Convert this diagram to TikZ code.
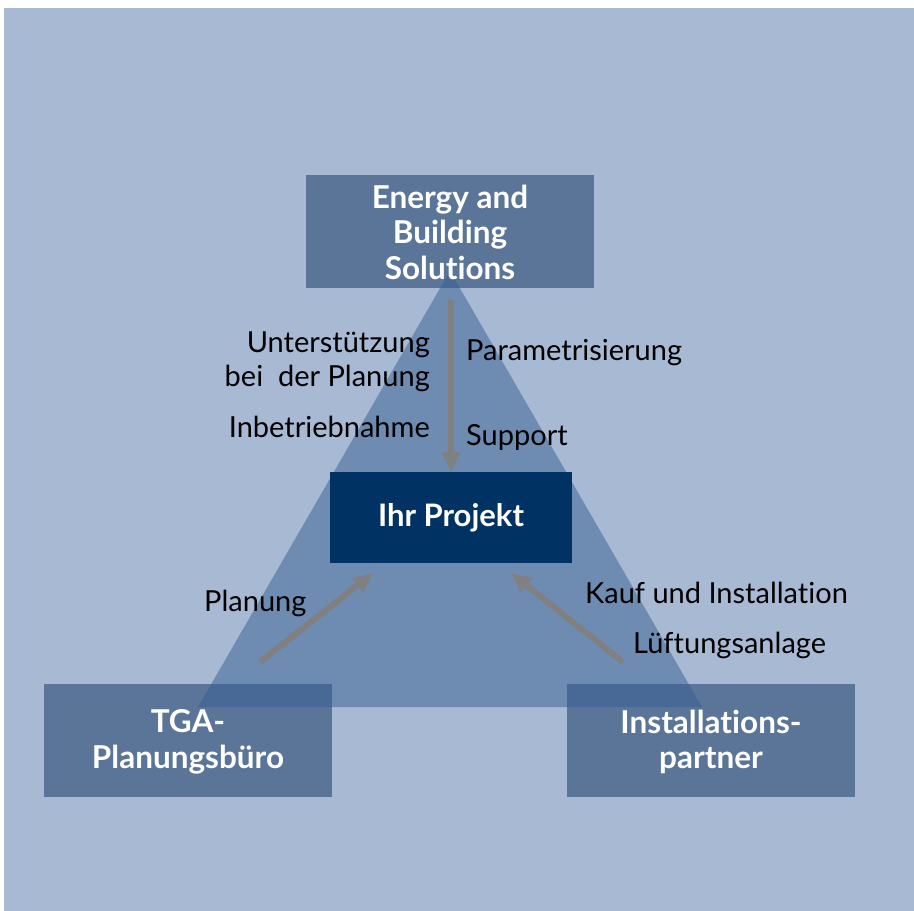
\documentclass[tikz,border=0pt]{standalone}
\usepackage{fontspec}
\setmainfont{Lato}[Ligatures={NoCommon}]
\usetikzlibrary{arrows.meta}
\definecolor{bgblue}{HTML}{A8B9D3}
\definecolor{boxblue}{HTML}{5B7599}
\definecolor{triblue}{HTML}{365F93}
\definecolor{navy}{HTML}{003263}
\definecolor{arrgray}{HTML}{808080}
\tikzset{
  boxtext/.style={text=white, font=\fontsize{31.5}{35.5}\selectfont\bfseries, align=center, inner sep=0pt},
  lbl/.style={text=black, font=\fontsize{29}{34}\selectfont, inner sep=0pt},
  flow/.style={draw=arrgray, line width=6pt, -{Triangle[length=20pt,width=17pt]}}
}
\begin{document}
\begin{tikzpicture}[x=1pt,y=-1pt]
\useasboundingbox (0,0) rectangle (914,911);
\fill[bgblue] (4,8) rectangle (914,911);
% outer boxes (fills)
\fill[boxblue] (306,175) rectangle (594,288);
\fill[boxblue] (44,684) rectangle (332,797);
\fill[boxblue] (567,684) rectangle (855,797);
% triangle
\fill[triblue, fill opacity=0.5] (450,271) -- (702,707) -- (198,707) -- cycle;
% centre box
\node[fill=navy, minimum width=242pt, minimum height=91pt, inner sep=0pt,
      text=white, font=\fontsize{31}{35}\selectfont\bfseries] (proj) at (451,517.5) {Ihr Projekt};
% box texts
\node[boxtext, minimum width=288pt, minimum height=113pt] (ebs) at (450,232) {Energy and\\Building\\Solutions};
\node[boxtext, minimum width=288pt, minimum height=113pt] (tga) at (188,742) {TGA-\\Planungsbüro};
\node[boxtext, minimum width=288pt, minimum height=113pt] (inst) at (711,742) {Installations-\\partner};
% labels
\node[lbl, anchor=base east] (l1) at (430,352) {Unterstützung};
\node[lbl, anchor=base east] (l2) at (430,386) {bei\ \ der Planung};
\node[lbl, anchor=base east] (l3) at (430,437) {Inbetriebnahme};
\node[lbl, anchor=base west] (l4) at (466,360) {Parametrisierung};
\node[lbl, anchor=base west] (l5) at (466,445) {Support};
\node[lbl, anchor=base west] (l6) at (204,611) {Planung};
\node[lbl, anchor=base west] (l7) at (585,603) {Kauf und Installation};
\node[lbl, anchor=base west] (l8) at (633,653) {Lüftungsanlage};
% arrows
\coordinate (a1s) at (451,300);
\coordinate (a1e) at (451,472);
\coordinate (a2s) at (260,662);
\coordinate (a2e) at (373,573);
\coordinate (a3s) at (623,662);
\coordinate (a3e) at (511,573);
\draw[flow] (a1s) -- (a1e);
\draw[flow] (a2s) -- (a2e);
\draw[flow] (a3s) -- (a3e);
\end{tikzpicture}
\end{document}
